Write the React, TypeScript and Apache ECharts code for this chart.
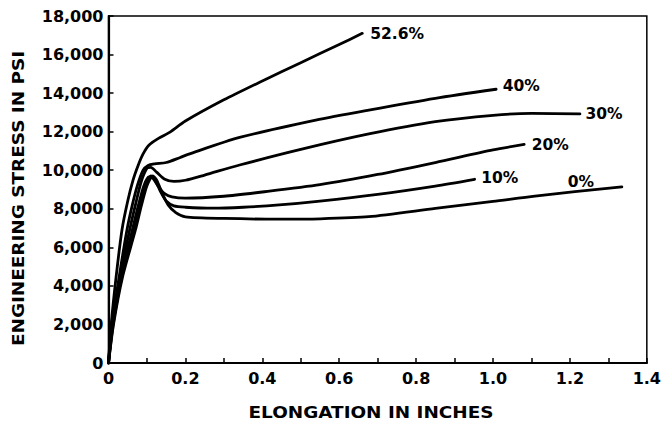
import React, { useEffect, useRef } from 'react';
import * as echarts from 'echarts';

const FONT = '"DejaVu Sans", Arial, sans-serif';

const curveNames = ['52.6%', '40%', '30%', '20%', '10%', '0%'];

const s526: [number, number][] = [
  [0, 0], [0.007, 2000], [0.02, 4500], [0.035, 6900], [0.05, 8400], [0.064, 9500],
  [0.078, 10300], [0.09, 10850], [0.105, 11300], [0.13, 11650], [0.16, 11980],
  [0.2, 12550], [0.3, 13650], [0.4, 14630], [0.5, 15580], [0.6, 16520], [0.66, 17100],
];
const s40: [number, number][] = [
  [0, 0], [0.009, 2000], [0.028, 4500], [0.048, 6900], [0.062, 8200], [0.075, 9200],
  [0.09, 10000], [0.103, 10250], [0.12, 10330], [0.15, 10400], [0.185, 10650],
  [0.211, 10850], [0.341, 11700], [0.539, 12600], [0.677, 13120], [0.85, 13730], [1.008, 14200],
];
const s30: [number, number][] = [
  [0, 0], [0.01, 2000], [0.03, 4500], [0.055, 6900], [0.07, 8200], [0.085, 9400],
  [0.1, 10100], [0.11, 10150], [0.125, 9900], [0.145, 9550], [0.17, 9420], [0.2, 9480],
  [0.25, 9750], [0.341, 10270], [0.5, 11080], [0.677, 11880], [0.85, 12520], [1.0, 12850],
  [1.1, 12950], [1.226, 12920],
];
const s20: [number, number][] = [
  [0, 0], [0.011, 2000], [0.033, 4500], [0.062, 6900], [0.078, 8200], [0.092, 9200],
  [0.105, 9650], [0.115, 9600], [0.13, 9150], [0.145, 8800], [0.165, 8620], [0.2, 8550],
  [0.3, 8650], [0.4, 8870], [0.55, 9250], [0.7, 9780], [0.85, 10400], [1.0, 11050], [1.081, 11340],
];
const s10: [number, number][] = [
  [0, 0], [0.012, 2000], [0.035, 4500], [0.066, 6900], [0.082, 8200], [0.096, 9200],
  [0.11, 9700], [0.12, 9550], [0.135, 8900], [0.15, 8400], [0.17, 8150], [0.2, 8080],
  [0.272, 8030], [0.35, 8080], [0.444, 8200], [0.55, 8400], [0.7, 8750], [0.85, 9180], [0.952, 9530],
];
const s0: [number, number][] = [
  [0, 0], [0.013, 2000], [0.037, 4500], [0.07, 6900], [0.086, 8200], [0.1, 9200],
  [0.115, 9700], [0.125, 9500], [0.14, 8800], [0.155, 8200], [0.175, 7800], [0.2, 7580],
  [0.3, 7500], [0.444, 7460], [0.55, 7480], [0.677, 7590], [0.85, 8020], [1.0, 8380],
  [1.109, 8660], [1.335, 9140],
];

const seriesData = [s526, s40, s30, s20, s10, s0];
const labelOffsets: [number, number][] = [
  [8, 0.5], [6.6, -2.8], [5.6, -0.2], [7.6, 0.2], [6.7, -1.5], [-54, -5],
];

const xTitle = 'ELONGATION IN INCHES';
const yTitle = 'ENGINEERING STRESS IN PSI';

export default function App() {
  const ref = useRef<HTMLDivElement>(null);
  useEffect(() => {
    if (!ref.current) return;
    const chart = echarts.init(ref.current, undefined, { renderer: 'svg' });
    const labelStyle = { color: '#000', fontFamily: FONT, fontWeight: 'bold' as const, fontSize: 16 };
    chart.setOption({
      animation: false,
      backgroundColor: '#fff',
      grid: {
        left: 108.5, right: 15, top: 16, bottom: 60,
        show: true, borderColor: '#000', borderWidth: 1.5, backgroundColor: 'transparent',
      },
      xAxis: {
        type: 'value', min: 0, max: 1.4, interval: 0.2,
        axisLine: { show: true, lineStyle: { color: '#000', width: 2.2 } },
        axisTick: { show: true, inside: true, length: 5, lineStyle: { color: '#000', width: 1.5 } },
        minorTick: { show: true, splitNumber: 2, length: 5, lineStyle: { color: '#000', width: 1.5 } },
        splitLine: { show: false },
        axisLabel: {
          ...labelStyle, margin: 7,
          formatter: (v: number) => (v === 0 ? '0' : v.toFixed(1)),
        },
      },
      yAxis: {
        type: 'value', min: 0, max: 18000, interval: 2000,
        axisLine: { show: true, lineStyle: { color: '#000', width: 2.2 } },
        axisTick: { show: true, inside: true, length: 5, lineStyle: { color: '#000', width: 1.5 } },
        splitLine: { show: false },
        axisLabel: {
          ...labelStyle, margin: 5,
          formatter: (v: number) => v.toLocaleString('en-US'),
        },
      },
      graphic: [
        {
          type: 'text', x: 371, y: 412.5, scaleX: 1.15,
          style: {
            text: xTitle, fill: '#000', font: `bold 16px ${FONT}`,
            fontFamily: FONT, fontWeight: 'bold', fontSize: 16,
            align: 'center', verticalAlign: 'middle',
            textAlign: 'center', textVerticalAlign: 'middle',
          },
        },
        {
          type: 'text', x: 18.5, y: 198.5, rotation: Math.PI / 2, scaleX: 1.15,
          style: {
            text: yTitle, fill: '#000', font: `bold 16px ${FONT}`,
            fontFamily: FONT, fontWeight: 'bold', fontSize: 16,
            align: 'center', verticalAlign: 'middle',
            textAlign: 'center', textVerticalAlign: 'middle',
          },
        },
      ],
      series: seriesData.map((d, i) => ({
        type: 'line',
        name: curveNames[i],
        data: d,
        showSymbol: false,
        symbol: 'none',
        smooth: 0.25,
        lineStyle: { color: '#000', width: 2.8, cap: 'round', join: 'round' },
        endLabel: {
          show: true,
          formatter: curveNames[i],
          distance: 0,
          offset: labelOffsets[i],
          color: '#000',
          fontFamily: FONT,
          fontWeight: 'bold',
          fontSize: 15.5,
        },
      })),
    });
    return () => chart.dispose();
  }, []);
  return (
    <div
      ref={ref}
      style={{ position: 'absolute', left: 0, top: 0, width: 664, height: 423, background: '#fff' }}
    />
  );
}
